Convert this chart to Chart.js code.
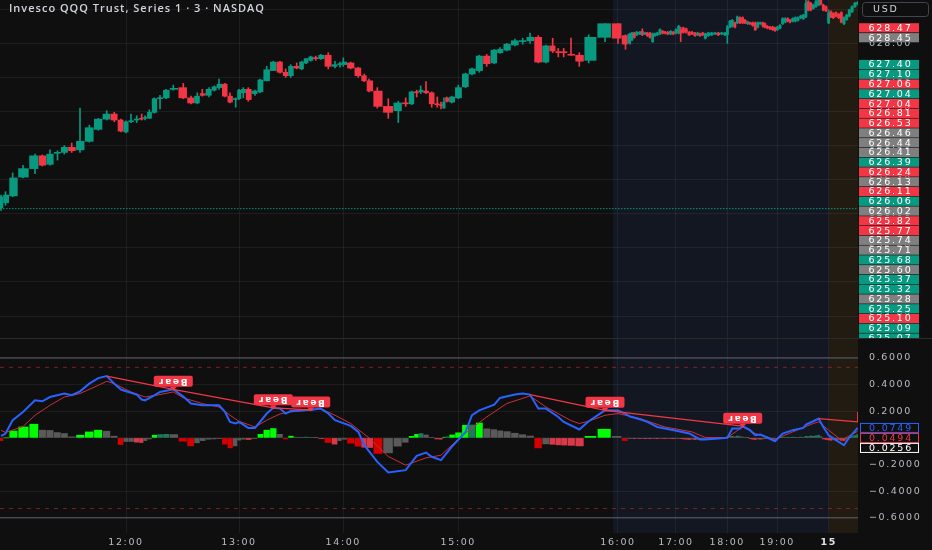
<!DOCTYPE html>
<html>
<head>
<meta charset="utf-8">
<script src="https://cdn.jsdelivr.net/npm/chart.js@4.4.1/dist/chart.umd.min.js"></script>
<style>
html, body { margin: 0; padding: 0; background: #0f0f0f; overflow: hidden; }
#wrap { position: relative; width: 932px; height: 550px; }
#price { position: absolute; left: 0; top: 0; }
#osc { position: absolute; left: 0; top: 338px; }
</style>
</head>
<body>
<div id="wrap">
  <canvas id="price" width="932" height="338"></canvas>
  <canvas id="osc" width="932" height="212"></canvas>
</div>
<script>
// 3 min volume candles, QQQ. bar volume (relative) sets the width of each bar
const volume = [4.5,7.2,10.3,12,7.3,7.7,7.5,6.8,7.4,8.3,
  9.3,9,8.4,7.6,6.7,5,5,5.7,5,3.3,
  4.3,5,5.7,6,7.3,10,7.7,6.3,5,6.7,
  5.3,4.7,6,5,5.7,3.3,4.3,5,6.7,5,
  6.7,6.6,6.7,5.7,5,6,5,4.3,4.7,5,
  5,7.6,6.7,5,3.3,7.4,7.6,6,4.7,8.3,
  11,10,7.4,6,5,4,5.3,5.7,5.6,3.7,
  3,2.7,5,6.6,7.2,6.5,7.3,7.4,7.6,5.7,
  6.7,8.3,7.7,7.3,8.3,7.7,6.7,5.6,5.4,7.3,
  8.3,9.4,16.3,13,7.5,4.5,2,
  2.3,2.4,3.3,2.3,2.7,2.3,2.7,2.7,2.3,2.3,
  2.7,2.7,2.3,2.7,3,2.6,2.7,2.7,2,2.6,
  2.7,3.3,2.7,3,2.7,2.3,2.7,2.6,3,3.4,
  3.3,3.3,3.4,3.3,2.3,2.7,2.3,2.7,2.3,2.7,
  2.7,2.3,2.7,2.3,2.7,2.6,2.4,2.6,2.7,2,
  2.3,2.7,2.7,2.3,2.3,2.7,2.7,2.6,2.4,2.3,
  2.7,2.6,2.7,2.7,2.6,2.7,2.3,2.4,2.6,2.7,
  2.7,2,2.6,2.7,2.7,2.3,2.3,2.7,2.7,2.6,
  2.7,2.7,2.6,2.7,3,2.7,2.6];

const open = [626.07,626.13,626.21,626.43,626.53,626.68,626.58,626.71,626.72,626.78,
  626.75,626.85,626.99,627.11,627.17,627.10,626.96,627.08,627.10,627.12,
  627.12,627.12,627.19,627.35,627.36,627.46,627.48,627.36,627.30,627.41,
  627.39,627.45,627.48,627.52,627.38,627.34,627.35,627.42,627.46,627.41,
  627.43,627.56,627.68,627.78,627.66,627.62,627.73,627.70,627.77,627.80,
  627.83,627.82,627.86,627.73,627.75,627.75,627.77,627.71,627.62,627.56,
  627.44,627.26,627.21,627.30,627.29,627.43,627.43,627.44,627.42,627.29,
  627.28,627.24,627.36,627.31,627.36,627.49,627.64,627.68,627.85,627.77,
  627.89,627.92,627.98,628.02,628.03,628.07,627.78,627.97,627.90,627.90,
  627.87,627.86,627.80,628.07,628.23,628.09,628.00,628.04,628.12,628.10,
  628.11,628.14,628.11,628.12,628.12,628.02,628.09,628.10,628.11,628.14,
  628.13,628.13,628.11,628.13,628.12,628.12,628.16,628.18,628.17,628.13,
  628.13,628.12,628.10,628.11,628.12,628.06,628.09,628.10,628.11,628.12,
  628.11,628.10,628.10,628.19,628.20,628.24,628.24,628.30,628.30,628.27,
  628.23,628.24,628.24,628.24,628.19,628.23,628.24,628.23,628.20,628.19,
  628.19,628.18,628.16,628.18,628.23,628.25,628.29,628.27,628.26,628.26,
  628.27,628.30,628.29,628.31,628.49,628.47,628.41,628.43,628.45,628.55,
  628.45,628.43,628.24,628.37,628.35,628.36,628.34,628.36,628.23,628.28,
  628.32,628.37,628.43,628.46];

const high = [626.22,626.26,626.48,626.57,626.70,626.69,626.75,626.74,626.80,626.83,
  627.24,627.04,627.12,627.21,627.19,627.11,627.09,627.17,627.15,627.17,
  627.15,627.22,627.36,627.39,627.46,627.51,627.53,627.38,627.42,627.46,
  627.48,627.50,627.58,627.53,627.42,627.36,627.46,627.48,627.48,627.45,
  627.58,627.73,627.79,627.79,627.70,627.75,627.77,627.79,627.82,627.85,
  627.85,627.87,627.89,627.79,627.78,627.83,627.78,627.72,627.64,627.58,
  627.48,627.35,627.32,627.36,627.44,627.45,627.50,627.55,627.43,627.37,
  627.31,627.36,627.37,627.38,627.51,627.65,627.71,627.86,627.87,627.93,
  627.95,628.00,628.05,628.06,628.12,628.09,627.98,628.06,627.94,627.94,
  628.06,627.89,628.10,628.23,628.23,628.10,628.12,628.13,628.13,628.14,
  628.14,628.17,628.13,628.13,628.13,628.12,628.12,628.13,628.17,628.15,
  628.14,628.14,628.15,628.14,628.17,628.21,628.19,628.19,628.18,628.14,
  628.14,628.13,628.13,628.12,628.13,628.12,628.13,628.13,628.13,628.13,
  628.13,628.13,628.21,628.27,628.28,628.25,628.32,628.31,628.31,628.28,
  628.26,628.25,628.25,628.25,628.25,628.25,628.25,628.24,628.21,628.20,
  628.20,628.19,628.20,628.22,628.30,628.30,628.30,628.28,628.30,628.31,
  628.31,628.33,628.34,628.51,628.50,628.48,628.46,628.51,628.55,628.58,
  628.46,628.44,628.39,628.38,628.36,628.37,628.35,628.37,628.31,628.34,
  628.40,628.44,628.48,628.49];

const low = [626.04,626.10,626.20,626.42,626.47,626.56,626.57,626.63,626.70,626.72,
  626.72,626.84,626.98,627.10,627.08,626.96,626.95,627.07,627.07,627.10,
  627.10,627.12,627.18,627.23,627.35,627.45,627.35,627.29,627.29,627.38,
  627.37,627.44,627.46,627.37,627.30,627.25,627.34,627.36,627.32,627.39,
  627.42,627.56,627.68,627.65,627.60,627.60,627.70,627.69,627.76,627.79,
  627.80,627.81,627.70,627.71,627.72,627.73,627.70,627.60,627.55,627.43,
  627.24,627.12,627.07,627.26,627.28,627.37,627.41,627.41,627.25,627.25,
  627.23,627.24,627.31,627.30,627.35,627.48,627.63,627.66,627.73,627.76,
  627.88,627.91,627.97,627.99,628.00,627.77,627.77,627.89,627.84,627.84,
  627.86,627.73,627.77,628.02,628.00,627.93,627.99,628.03,628.06,628.09,
  628.10,628.09,628.10,628.08,628.06,628.01,628.08,628.09,628.10,628.11,
  628.11,628.10,628.10,628.10,628.11,628.11,628.02,628.12,628.12,628.09,
  628.10,628.08,628.09,628.08,628.09,628.05,628.08,628.09,628.10,628.09,
  628.10,628.09,628.00,628.18,628.19,628.18,628.23,628.23,628.23,628.23,
  628.22,628.22,628.20,628.15,628.18,628.22,628.19,628.18,628.17,628.16,
  628.15,628.14,628.15,628.17,628.22,628.24,628.25,628.24,628.25,628.25,
  628.26,628.29,628.28,628.30,628.38,628.38,628.40,628.42,628.44,628.45,
  628.38,628.37,628.23,628.30,628.29,628.31,628.29,628.24,628.22,628.27,
  628.31,628.36,628.42,628.45];

const close = [626.20,626.22,626.42,626.53,626.68,626.57,626.70,626.72,626.78,626.74,
  626.85,627.01,627.11,627.17,627.10,626.97,627.08,627.09,627.11,627.11,
  627.13,627.19,627.35,627.36,627.45,627.47,627.36,627.30,627.38,627.39,
  627.46,627.49,627.52,627.38,627.31,627.35,627.45,627.46,627.34,627.44,
  627.57,627.69,627.78,627.66,627.62,627.73,627.71,627.78,627.82,627.84,
  627.82,627.86,627.73,627.75,627.76,627.78,627.71,627.62,627.56,627.44,
  627.26,627.19,627.30,627.29,627.43,627.42,627.45,627.42,627.29,627.28,
  627.27,627.31,627.32,627.37,627.48,627.64,627.70,627.85,627.76,627.92,
  627.93,627.99,628.03,628.03,628.07,627.78,627.97,627.91,627.89,627.89,
  627.86,627.79,628.07,628.23,628.06,627.99,628.11,628.12,628.07,628.13,
  628.13,628.10,628.12,628.09,628.07,628.11,628.11,628.12,628.16,628.12,
  628.12,628.11,628.14,628.11,628.16,628.20,628.12,628.13,628.13,628.10,
  628.11,628.09,628.12,628.09,628.10,628.11,628.12,628.12,628.12,628.10,
  628.12,628.12,628.19,628.26,628.27,628.19,628.31,628.24,628.24,628.24,
  628.25,628.23,628.21,628.16,628.24,628.24,628.20,628.19,628.18,628.17,
  628.16,628.15,628.19,628.21,628.29,628.29,628.26,628.25,628.29,628.30,
  628.30,628.32,628.33,628.47,628.39,628.39,628.45,628.49,628.51,628.46,
  628.39,628.38,628.36,628.31,628.30,628.32,628.30,628.25,628.30,628.33,
  628.39,628.43,628.47,628.48];

const prevClose = 626.06;

// oscillator: histogram per bar, lines read at their vertices
const hist = [-0.02,0,0.052,0.082,0.103,0.058,0.056,0.04,0.033,0.008,
  0.02,0.045,0.058,0.05,0.013,-0.05,-0.027,-0.027,-0.032,-0.035,
  -0.02,-0.008,0.02,0.025,0.027,0.025,-0.025,-0.06,-0.037,-0.02,
  -0.01,-0.008,-0.005,-0.047,-0.075,-0.06,-0.017,-0.01,-0.012,-0.005,
  0.027,0.058,0.07,0.027,-0.008,0.013,0.005,0.003,0.006,0.004,
  0.002,-0.005,-0.035,-0.047,-0.02,-0.01,-0.04,-0.062,-0.07,-0.072,
  -0.117,-0.112,-0.062,-0.033,0.012,0.027,0.033,0.022,0.003,-0.008,
  -0.01,0.005,0.008,0.022,0.038,0.095,0.097,0.112,0.068,0.062,
  0.053,0.047,0.035,0.024,0.014,-0.075,-0.045,-0.048,-0.052,-0.054,
  -0.056,-0.06,0.012,0.065,0.012,-0.02,-0.005,-0.004,-0.006,-0.003,
  -0.005,-0.004,-0.006,-0.005,-0.006,-0.003,-0.004,-0.006,-0.003,-0.004,
  -0.005,-0.003,-0.004,-0.006,-0.004,-0.003,-0.005,-0.008,-0.01,-0.012,
  -0.01,-0.012,-0.01,-0.012,-0.008,-0.005,-0.004,-0.003,-0.002,-0.002,
  -0.001,0.002,0.01,0.016,0.012,0.008,0.014,0.01,0.006,0.004,
  0.002,-0.006,-0.01,-0.012,-0.008,-0.01,-0.008,-0.006,-0.006,-0.004,
  -0.006,-0.005,-0.003,0.002,0.004,0.003,0.005,0.004,0.006,0.005,
  0.004,0.006,0.004,0.012,0.01,0.015,0.012,0.016,0.02,0.01,
  -0.008,-0.012,-0.015,-0.018,-0.014,-0.016,-0.012,-0.018,-0.02,-0.01,
  0.005,0.012,0.018,0.0256];

const macdBars = [0,1,2,3,4,5,6,8,9,10,11,12,13,14,15,16,18,19,20,22,
  23,25,26,27,29,32,33,34,35,36,38,39,40,41,42,43,44,45,47,49,
  51,52,53,56,57,58,60,61,63,65,67,68,70,73,75,76,77,79,80,82,
  83,84,85,86,88,89,91,92,93,94,95,96,100,103,107,110,115,119,123,125,
  129,132,134,137,138,141,143,145,148,151,154,158,162,163,166,168,170,172,175,178,
  180,183];
const macdVals = [0.013,0.033,0.133,0.195,0.282,0.275,0.307,0.333,0.32,0.35,0.407,0.449,0.464,0.407,0.363,0.35,0.325,0.288,0.282,0.32,
  0.345,0.365,0.31,0.258,0.245,0.245,0.195,0.12,0.108,0.12,0.075,0.075,0.12,0.183,0.226,0.22,0.183,0.202,0.207,0.212,
  0.22,0.183,0.133,0.09,0.045,-0.055,-0.18,-0.26,-0.242,-0.135,-0.11,-0.142,-0.167,-0.067,0.045,0.17,0.207,0.25,0.3,0.325,
  0.333,0.325,0.22,0.22,0.157,0.12,0.063,0.125,0.207,0.205,0.18,0.16,0.14,0.12,0.082,0.07,0.05,0.033,-0.012,-0.012,
  -0.005,0,0.07,0.07,0.088,0.058,0.02,0.025,0.003,-0.025,0.033,0.058,0.075,0.1,0.125,0.145,0.082,0.02,-0.017,-0.055,
  0.003,0.0749];

const signalBars = [0,1,3,4,6,8,10,12,13,14,17,20,23,25,26,29,32,34,36,39,
  41,43,45,49,51,53,56,59,61,63,67,70,74,76,78,81,84,86,90,91,
  92,93,94,100,110,120,125,132,138,143,151,158,166,168,172,177,183];
const signalVals = [0.058,0.04,0.085,0.17,0.245,0.307,0.333,0.395,0.425,0.407,0.345,0.307,0.325,0.345,0.3,0.258,0.232,0.17,0.125,0.082,
  0.133,0.18,0.195,0.207,0.22,0.17,0.108,0,-0.14,-0.205,-0.15,-0.13,-0.01,0.075,0.157,0.258,0.315,0.232,0.13,0.108,
  0.125,0.17,0.183,0.145,0.082,0.045,0.003,0.003,0.082,0.033,-0.012,0.045,0.108,0.12,0.058,-0.017,0.0494];

// bearish divergence lines (bar, value) and the bars that got a tag
const bearBars = [[13,25,42,49],[84,93,138],[168,183,183]];
const bearVals = [[0.464,0.365,0.226,0.21],[0.325,0.207,0.088],[0.145,0.12,0.195]];
const bearTagBars = [25,42,49,93,138];
const bearTagVals = [0.365,0.226,0.21,0.207,0.088];
const bearText = 'Bear';

const upperBand = 0.6, lowerBand = -0.6, upperLevel = 0.53, lowerLevel = -0.53;

const hourBars = [16,36,55,74,94,114,132,152,172];
const hourLabels = ['12:00','13:00','14:00','15:00','16:00','17:00','18:00','19:00','15'];
const sessionBars = [94, 172]; // post market, pre market

const priceTicks = [628.4,628.0,627.6,627.2,626.8,626.4,626.0,625.6,625.2,624.8];
const oscTicks = [0.6,0.4,0.2,0,-0.2,-0.4,-0.6];

const tagPrices = [628.47,628.45,627.40,627.10,627.06,627.04,627.04,626.81,626.53,626.46,
  626.44,626.41,626.39,626.24,626.13,626.11,626.06,626.02,625.82,625.77,
  625.74,625.71,625.68,625.60,625.37,625.32,625.28,625.25,625.10,625.09,625.07];
const tagMoves = ['down','flat','up','up','down','up','down','down','down','flat',
  'flat','flat','up','down','flat','down','up','flat','down','down',
  'flat','flat','up','flat','up','up','flat','up','down','up','up'];

const title = 'Invesco QQQ Trust, Series 1 · 3 · NASDAQ';
const currency = 'USD';

// ---------------------------------------------------------------
const xPos = [];
volume.reduce((acc, v) => { xPos.push(acc); return acc + v; }, 0);
const xMin = -1, xMax = 857;

const UP = '#089981', DOWN = '#f23645', GRID = 'rgba(255,255,255,0.06)', TXT = '#b8bcc6';
Chart.defaults.font.family = "'DejaVu Sans', sans-serif";
Chart.defaults.font.size = 9.5;

function candleColor(c) {
  return close[c.dataIndex] >= open[c.dataIndex] ? UP : DOWN;
}

function histColor(c) {
  const i = c.dataIndex, h = hist[i], p = i > 0 ? hist[i - 1] : 0;
  if (h >= 0) return h > p ? (h - p >= 0.01 ? '#00ff00' : '#1f7a5c') : '#5a5a5a';
  return h < p ? (p - h >= 0.02 ? '#d50000' : '#d83a4a') : '#5a5a5a';
}

function fitRightAxis(s) {
  s.width = 74; s.paddingTop = 0; s.paddingBottom = 0;
}

function timeAxis(showLabels) {
  return {
    type: 'linear', min: xMin, max: xMax, offset: false,
    grid: { offset: false, color: GRID, drawTicks: false },
    border: { display: false },
    afterBuildTicks: s => { s.ticks = hourBars.map(b => ({ value: xPos[b] })); },
    afterFit: s => { s.height = showLabels ? 17 : 0; s.paddingLeft = 0; s.paddingRight = 0; },
    ticks: {
      display: showLabels, autoSkip: false, maxRotation: 0, padding: 4,
      callback: (v, i) => hourLabels[i],
      color: c => hourLabels[c.index] && hourLabels[c.index].includes(':') ? TXT : '#e0e3eb',
      font: c => ({ size: 9.5, weight: hourLabels[c.index] && hourLabels[c.index].includes(':') ? 'normal' : 'bold' })
    }
  };
}

const sessionShade = {
  id: 'sessionShade',
  beforeDraw(chart) {
    const { ctx, chartArea: a, scales: { x } } = chart;
    const shades = ['#131722', '#211b12'];
    ctx.save();
    ctx.fillStyle = '#0f0f0f';
    ctx.fillRect(0, 0, chart.width, chart.height);
    const edge = b => x.getPixelForValue((xPos[b - 1] + xPos[b]) / 2) + 1.5;
    sessionBars.forEach((b, i) => {
      const left = edge(b);
      const right = i + 1 < sessionBars.length ? edge(sessionBars[i + 1]) : a.right;
      ctx.fillStyle = shades[i];
      ctx.fillRect(left, a.top, right - left, a.bottom - a.top);
    });
    ctx.restore();
    ctx.letterSpacing = '1.6px';
  }
};

const priceDecor = {
  id: 'priceDecor',
  afterDraw(chart) {
    const { ctx, chartArea: a } = chart;
    ctx.save();
    // title
    ctx.letterSpacing = '1px';
    ctx.font = "600 11px 'Open Sans'";
    ctx.fillStyle = '#d1d4dc';
    ctx.textBaseline = 'middle';
    ctx.textAlign = 'left';
    ctx.fillText(title, 9, 9);
    // currency box
    ctx.fillStyle = '#0f0f0f';
    ctx.strokeStyle = '#434651';
    ctx.lineWidth = 1;
    ctx.beginPath(); ctx.roundRect(862.5, 2.5, 66, 14, 3); ctx.fill(); ctx.stroke();
    ctx.letterSpacing = '1.8px';
    ctx.font = "9.5px 'DejaVu Sans'";
    ctx.fillStyle = '#d1d4dc';
    ctx.fillText(currency, 873, 10);
    // stacked price tags
    const fills = { up: UP, down: DOWN, flat: '#7f7f7f' };
    tagPrices.forEach((p, i) => {
      const cy = i < 2 ? 27.8 + i * 9.9 : 64.5 + (i - 2) * 9.77;
      ctx.fillStyle = fills[tagMoves[i]];
      ctx.fillRect(a.right + 1, cy - 4.6, 60, 9.2);
      ctx.fillStyle = '#ffffff';
      ctx.fillText(p.toFixed(2), a.right + 10.5, cy + 0.5);
    });
    ctx.restore();
  }
};

const oscDecor = {
  id: 'oscDecor',
  afterDatasetsDraw(chart) {
    const { ctx, scales: { x, y } } = chart;
    ctx.save();
    bearTagBars.forEach((b, i) => {
      const px = x.getPixelForValue(xPos[b]);
      const tip = y.getPixelForValue(bearTagVals[i]) + 1.5;
      const w = 39, h = 11, bottom = tip - 4, top = bottom - h;
      ctx.fillStyle = DOWN;
      ctx.beginPath(); ctx.roundRect(px - w / 2, top, w, h, 2); ctx.fill();
      ctx.beginPath(); ctx.moveTo(px - 3.5, bottom); ctx.lineTo(px + 3.5, bottom); ctx.lineTo(px, tip); ctx.closePath(); ctx.fill();
      ctx.save();
      ctx.translate(px, top + h / 2);
      ctx.rotate(Math.PI);
      ctx.letterSpacing = '1.6px';
      ctx.font = "bold 9px 'DejaVu Sans'";
      ctx.fillStyle = '#ffffff';
      ctx.textAlign = 'center';
      ctx.textBaseline = 'middle';
      ctx.fillText(bearText, 0.8, 0);
      ctx.restore();
    });
    ctx.restore();
  },
  afterDraw(chart) {
    const { ctx, chartArea: a, scales: { y } } = chart;
    ctx.save();
    ctx.fillStyle = '#2a2a2a';
    ctx.fillRect(0, 0, chart.width, 1);
    const last = [macdVals[macdVals.length - 1], signalVals[signalVals.length - 1], hist[hist.length - 1]];
    const colors = ['#2962ff', DOWN, '#ffffff'];
    let prev = -Infinity;
    ctx.letterSpacing = '1.8px';
    ctx.font = "9.5px 'DejaVu Sans'";
    ctx.textBaseline = 'middle';
    ctx.textAlign = 'left';
    last.forEach((v, i) => {
      const cy = Math.max(y.getPixelForValue(v), prev + 10);
      prev = cy;
      ctx.fillStyle = '#0f0f0f';
      ctx.fillRect(a.right + 2, cy - 4.5, 58.5, 9);
      ctx.strokeStyle = colors[i];
      ctx.lineWidth = 1;
      ctx.strokeRect(a.right + 2.5, cy - 4.5, 58, 9);
      ctx.fillStyle = colors[i];
      ctx.fillText(v.toFixed(4), a.right + 11, cy + 0.5);
    });
    ctx.restore();
  }
};

new Chart(document.getElementById('price'), {
  type: 'bar',
  data: {
    datasets: [
      {
        label: 'body', order: 1, stack: 'ohlc',
        data: open.map((o, i) => ({ x: xPos[i], y: [o, close[i]] })),
        backgroundColor: candleColor, barThickness: 'flex', barPercentage: 0.88, categoryPercentage: 1, minBarLength: 1
      },
      {
        label: 'wick', order: 2, stack: 'ohlc',
        data: low.map((l, i) => ({ x: xPos[i], y: [l, high[i]] })),
        backgroundColor: candleColor, barThickness: 1
      },
      {
        type: 'line', label: 'prev close', order: 3,
        data: [{ x: xMin, y: prevClose }, { x: xMax, y: prevClose }],
        borderColor: UP, borderWidth: 1, borderDash: [1.5, 1.5], pointRadius: 0
      }
    ]
  },
  options: {
    responsive: false, animation: false, events: [],
    layout: { padding: 0 },
    plugins: { legend: { display: false }, tooltip: { enabled: false } },
    scales: {
      x: timeAxis(false),
      y: {
        position: 'right', min: 624.543, max: 628.508, stacked: false,
        grid: { color: GRID, drawTicks: false },
        border: { display: false },
        afterBuildTicks: s => { s.ticks = priceTicks.map(v => ({ value: v })); },
        afterFit: fitRightAxis,
        ticks: { padding: 11, color: TXT, callback: v => v.toFixed(2) }
      }
    }
  },
  plugins: [sessionShade, priceDecor]
});

const oscSets = [
  {
    type: 'line', label: 'MACD', order: 1,
    data: macdBars.map((b, i) => ({ x: xPos[b], y: macdVals[i] })),
    borderColor: '#2962ff', borderWidth: 2, pointRadius: 0, tension: 0
  },
  {
    type: 'line', label: 'Signal', order: 2,
    data: signalBars.map((b, i) => ({ x: xPos[b], y: signalVals[i] })),
    borderColor: '#c8313c', borderWidth: 1, pointRadius: 0, tension: 0
  }
];
bearBars.forEach((bars, k) => oscSets.push({
  type: 'line', label: 'bear ' + k, order: 0,
  data: bars.map((b, i) => ({ x: xPos[b], y: bearVals[k][i] })),
  borderColor: DOWN, borderWidth: 1.3, pointRadius: 0
}));
[upperBand, lowerBand].forEach(v => oscSets.push({
  type: 'line', label: 'band', order: 5,
  data: [{ x: xMin, y: v }, { x: xMax, y: v }],
  borderColor: '#5d606b', borderWidth: 1, pointRadius: 0
}));
[upperLevel, lowerLevel].forEach(v => oscSets.push({
  type: 'line', label: 'level', order: 5,
  data: [{ x: xMin, y: v }, { x: xMax, y: v }],
  borderColor: 'rgba(200,40,50,0.6)', borderWidth: 1, borderDash: [4, 5], pointRadius: 0
}));
oscSets.push({
  type: 'bar', label: 'Histogram', order: 4,
  data: hist.map((h, i) => ({ x: xPos[i], y: h })),
  backgroundColor: histColor, barThickness: 'flex', barPercentage: 0.85, categoryPercentage: 1
});

new Chart(document.getElementById('osc'), {
  type: 'bar',
  data: { datasets: oscSets },
  options: {
    responsive: false, animation: false, events: [],
    layout: { padding: 0 },
    plugins: { legend: { display: false }, tooltip: { enabled: false } },
    scales: {
      x: timeAxis(true),
      y: {
        position: 'right', min: -0.714, max: 0.75, stacked: false,
        grid: { color: GRID, drawTicks: false },
        border: { display: false },
        afterBuildTicks: s => { s.ticks = oscTicks.map(v => ({ value: v })); },
        afterFit: fitRightAxis,
        ticks: { padding: 11, color: TXT, callback: v => (v < 0 ? '\u2212' : '') + Math.abs(v).toFixed(4) }
      }
    }
  },
  plugins: [sessionShade, oscDecor]
});
</script>
</body>
</html>
